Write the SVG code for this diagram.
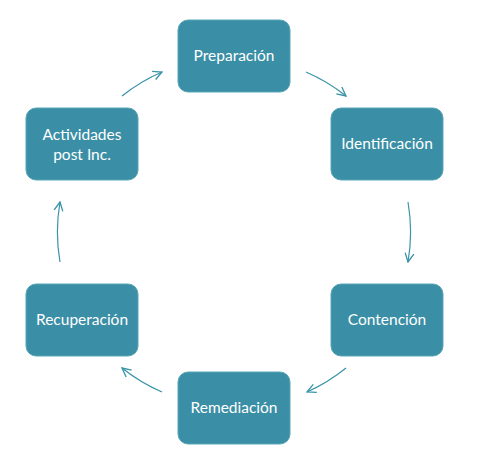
<svg xmlns="http://www.w3.org/2000/svg" width="477" height="466" viewBox="0 0 477 466">
<style>
.box{fill:#3A8EA5;stroke:#5AA6B9;stroke-width:1}
.lbl{font-family:Lato,"Open Sans",sans-serif;font-size:15.5px;fill:#FFFFFF;text-anchor:middle}
.arc{fill:none;stroke:#3A93A8;stroke-width:1.2}
</style>
<defs>
<marker id="ah" viewBox="0 0 10 10" refX="9" refY="5" markerWidth="11" markerHeight="11" markerUnits="userSpaceOnUse" orient="auto">
<path d="M1,1 L9,5 L1,9" fill="none" stroke="#3A93A8" stroke-width="1.2"/>
</marker>
</defs>
<rect width="477" height="466" fill="#FFFFFF"/>
<g id="connectors">
<path class="arc" d="M306,72 A176,176 0 0 1 346,96" marker-end="url(#ah)"/>
<path class="arc" d="M408,202 A176,176 0 0 1 408,262" marker-end="url(#ah)"/>
<path class="arc" d="M346,368 A176,176 0 0 1 307,392" marker-end="url(#ah)"/>
<path class="arc" d="M162,392 A176,176 0 0 1 122,368" marker-end="url(#ah)"/>
<path class="arc" d="M60,262 A176,176 0 0 1 60,202" marker-end="url(#ah)"/>
<path class="arc" d="M122,96 A176,176 0 0 1 162,72" marker-end="url(#ah)"/>
</g>
<g id="preparacion"><rect class="box" x="178" y="20" width="112" height="72" rx="10"/><text class="lbl" x="234" y="61">Preparación</text></g>
<g id="identificacion"><rect class="box" x="331" y="108" width="112" height="72" rx="10"/><text class="lbl" x="387" y="149">Identificación</text></g>
<g id="contencion"><rect class="box" x="331" y="284" width="112" height="72" rx="10"/><text class="lbl" x="387" y="325">Contención</text></g>
<g id="remediacion"><rect class="box" x="178" y="372" width="112" height="72" rx="10"/><text class="lbl" x="234" y="413">Remediación</text></g>
<g id="recuperacion"><rect class="box" x="26" y="284" width="112" height="72" rx="10"/><text class="lbl" x="82" y="325">Recuperación</text></g>
<g id="actividades"><rect class="box" x="26" y="108" width="112" height="72" rx="10"/><text class="lbl" x="82" y="140">Actividades</text><text class="lbl" x="82" y="160">post Inc.</text></g>
</svg>
